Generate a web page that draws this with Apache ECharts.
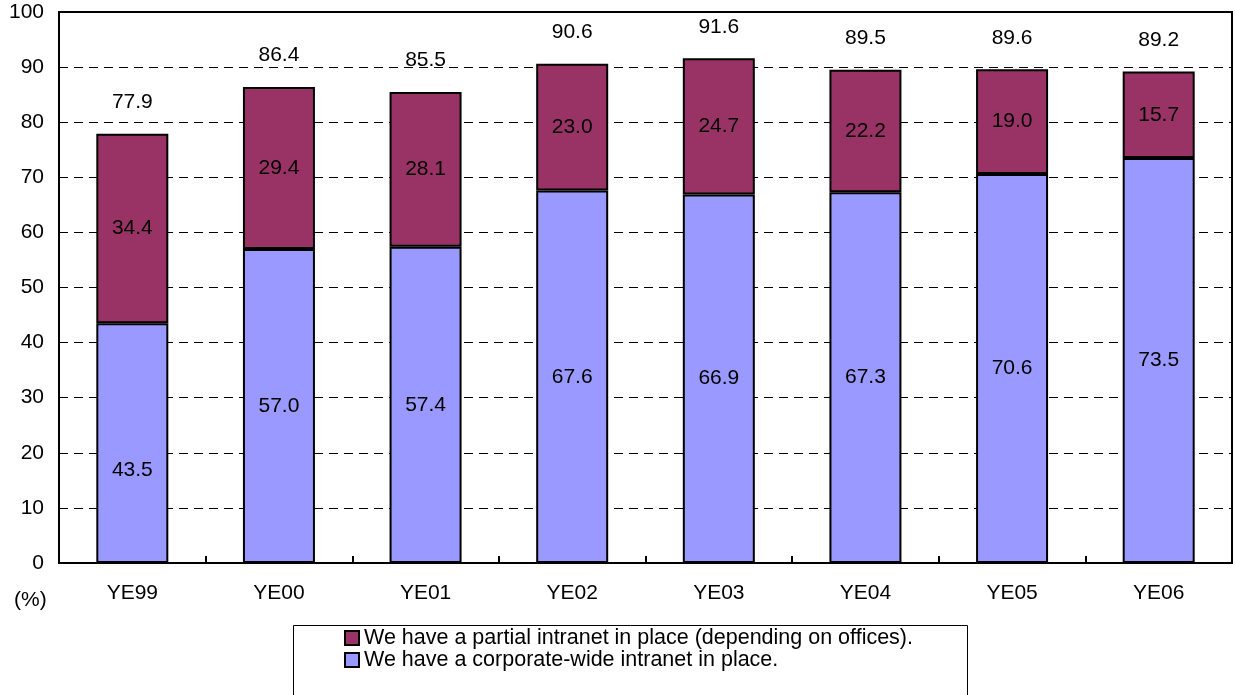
<!DOCTYPE html>
<html>
<head>
<meta charset="utf-8">
<script src="https://cdn.jsdelivr.net/npm/echarts@6/dist/echarts.min.js"></script>
<style>
  html, body { margin: 0; padding: 0; background: #fff; }
  #chart { width: 1235px; height: 695px; }
</style>
</head>
<body>
<div id="chart"></div>
<script>
// Intranet deployment by year-end (%)
const years = ['YE99', 'YE00', 'YE01', 'YE02', 'YE03', 'YE04', 'YE05', 'YE06'];
const corporateWide = [43.5, 57.0, 57.4, 67.6, 66.9, 67.3, 70.6, 73.5];
const partial = [34.4, 29.4, 28.1, 23.0, 24.7, 22.2, 19.0, 15.7];
const totals = [77.9, 86.4, 85.5, 90.6, 91.6, 89.5, 89.6, 89.2];
const yTicks = [0, 10, 20, 30, 40, 50, 60, 70, 80, 90, 100];

const FONT = 'Liberation Sans, Arial, sans-serif';
const FS = 21;
const labelStyle = { fontFamily: FONT, fontSize: FS, color: '#000' };

const chart = echarts.init(document.getElementById('chart'));

// The first bar's lower label sits lower inside its segment
const corporateData = corporateWide.map((v, i) =>
  i === 0 ? { value: v, label: { offset: [0, 27] } } : v);

chart.setOption({
  animation: false,
  grid: {
    left: 59, right: 3, top: 12, bottom: 132,
    show: true, borderColor: '#000', borderWidth: 2, backgroundColor: '#fff'
  },
  legend: {
    orient: 'vertical',
    left: 339, top: 622,
    itemWidth: 14, itemHeight: 14, itemGap: 0,
    icon: 'rect',
    textStyle: { fontFamily: FONT, fontSize: 21.5, color: '#000' },
    data: ['We have a partial intranet in place (depending on offices).',
           'We have a corporate-wide intranet in place.']
  },
  graphic: [
    { type: 'rect', left: 291, top: 623, shape: { width: 674, height: 80 },
      style: { fill: 'none', stroke: '#000', lineWidth: 1 }, z: -1 },
    { type: 'text', left: 14, top: 590,
      style: { text: '(%)', fontFamily: FONT, fontSize: FS, fill: '#000' } }
  ],
  xAxis: {
    type: 'category',
    data: years,
    axisLine: { lineStyle: { color: '#000', width: 2 } },
    axisTick: { show: true, inside: true, length: 7, alignWithLabel: false, lineStyle: { color: '#000', width: 2 } },
    axisLabel: { fontFamily: FONT, fontSize: FS, color: '#000', margin: 20 }
  },
  yAxis: {
    type: 'value',
    min: yTicks[0], max: yTicks[yTicks.length - 1], interval: 10,
    axisLine: { show: true, lineStyle: { color: '#000', width: 2 } },
    axisTick: { show: false },
    axisLabel: { fontFamily: FONT, fontSize: FS, color: '#000', margin: 15 },
    splitLine: { show: true, lineStyle: { color: '#000', width: 1, type: [9, 6] } }
  },
  series: [
    {
      name: 'We have a corporate-wide intranet in place.',
      type: 'bar', stack: 'total', barWidth: 72,
      data: corporateData,
      itemStyle: { color: '#9999FF', borderColor: '#000', borderWidth: 2 },
      label: { show: true, position: 'inside', formatter: p => p.value.toFixed(1), ...labelStyle }
    },
    {
      name: 'We have a partial intranet in place (depending on offices).',
      type: 'bar', stack: 'total', barWidth: 72,
      data: partial,
      itemStyle: { color: '#993366', borderColor: '#000', borderWidth: 2 },
      label: { show: true, position: 'inside', formatter: p => p.value.toFixed(1), ...labelStyle }
    },
    {
      name: 'total',
      type: 'scatter',
      data: totals,
      symbolSize: 0,
      itemStyle: { color: '#000', opacity: 1 },
      label: { show: true, position: 'top', distance: 21, formatter: p => p.value.toFixed(1), ...labelStyle },
      silent: true,
      z: 5
    }
  ]
});
</script>
</body>
</html>
